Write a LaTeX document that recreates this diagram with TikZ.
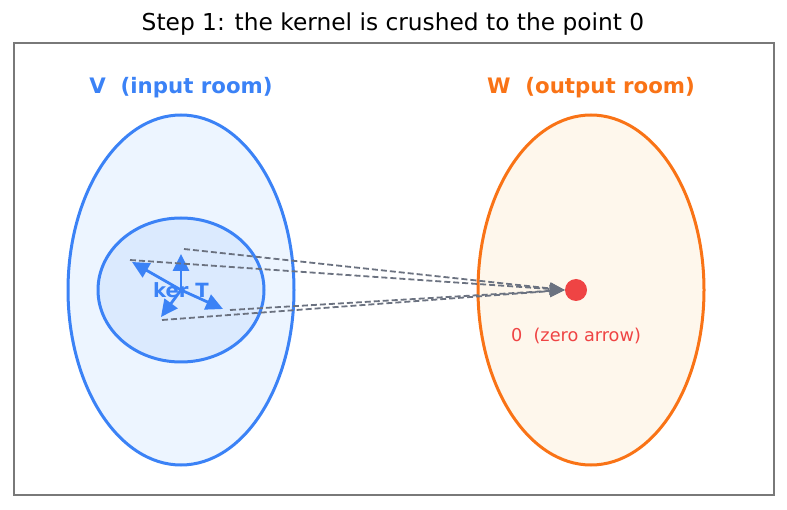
\documentclass[tikz,border=0pt]{standalone}
\usepackage{fontspec}
\setmainfont{DejaVu Sans}
\usetikzlibrary{arrows.meta}
\definecolor{vblue}{HTML}{3B82F6}
\definecolor{vfill}{HTML}{EDF5FF}
\definecolor{kfill}{HTML}{DBEAFE}
\definecolor{worange}{HTML}{F97316}
\definecolor{wfill}{HTML}{FEF7EC}
\definecolor{zred}{HTML}{EF4444}
\definecolor{dgray}{HTML}{6B7280}
\tikzset{
  kerarrow/.style={vblue, line width=2.8pt, -{Triangle[length=17pt,width=16pt]}},
  crush/.style={dgray, line width=1.8pt, dash pattern=on 6pt off 3pt, -{Triangle[length=15pt,width=12pt]}},
  roomlabel/.style={font=\bfseries\fontsize{21.3}{25}\selectfont},
}
\begin{document}
\begin{tikzpicture}[x=1pt,y=-1pt]
\useasboundingbox (0,0) rectangle (787,510);
\node (title) at (393,24) {\fontsize{23.3}{28}\selectfont Step 1: the kernel is crushed to the point 0};
\draw[gray!95!black, line width=1.8pt] (14,43) rectangle (774,495);
% rooms
\draw[vblue, fill=vfill, line width=3pt] (181,290) ellipse [x radius=113, y radius=175];
\draw[worange, fill=wfill, line width=3pt] (591,290) ellipse [x radius=113, y radius=175];
\draw[vblue, fill=kfill, line width=3pt] (181,290) ellipse [x radius=83, y radius=72];
\node[roomlabel, text=vblue] (vlab) at (181,88) {V\ \ (input room)};
\node[roomlabel, text=worange] (wlab) at (591,88) {W\ \ (output room)};
% kernel vectors
\coordinate (o) at (181,290);
\coordinate (k1) at (181,254);
\coordinate (k2) at (132,262);
\coordinate (k3) at (223,309);
\coordinate (k4) at (161,317);
\node[font=\bfseries\fontsize{19.6}{23}\selectfont, text=vblue] (ker) at (181,290) {ker T};
\draw[kerarrow] (o) -- (k1);
\draw[kerarrow] (o) -- (k2);
\draw[kerarrow] (o) -- (k3);
\draw[kerarrow] (o) -- (k4);
% zero point
\node[circle, fill=zred, minimum size=22pt, inner sep=0pt] (zero) at (576,290) {};
\node[text=zred, font=\fontsize{17.7}{21}\selectfont] (zlab) at (576,336) {0\ \ (zero arrow)};
% crush lines
\coordinate (s1) at (184,249);
\coordinate (s2) at (130,260);
\coordinate (s3) at (230,310);
\coordinate (s4) at (162,320);
\draw[crush] (s1) -- (zero.west);
\draw[crush] (s2) -- (zero.west);
\draw[crush] (s3) -- (zero.west);
\draw[crush] (s4) -- (zero.west);
\end{tikzpicture}
\end{document}
